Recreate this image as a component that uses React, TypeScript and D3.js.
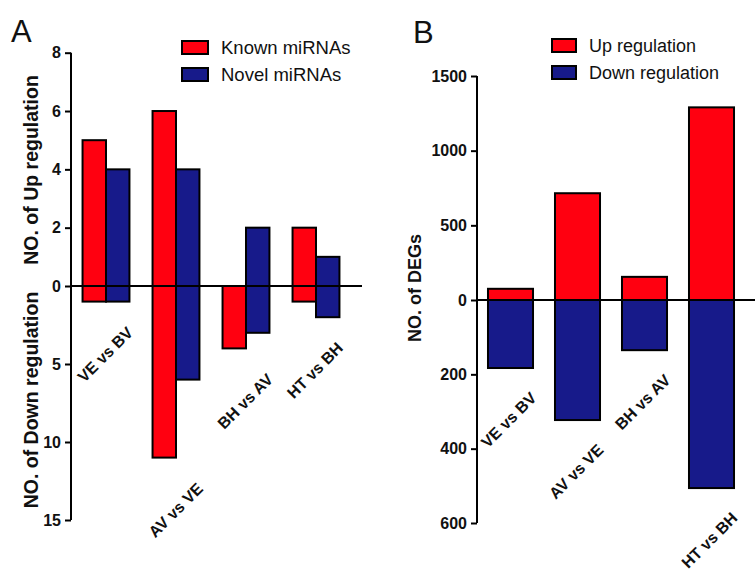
import React, { useEffect, useRef } from "react";
import * as d3 from "d3";

// Panel A: miRNA counts
const mirCategories = ["VE vs BV", "AV vs VE", "BH vs AV", "HT vs BH"];
const mirSeries = ["Known miRNAs", "Novel miRNAs"];
const knownUp = [5, 6, 0, 2];
const novelUp = [4, 4, 2, 1];
const knownDown = [1, 11, 4, 1];
const novelDown = [1, 6, 3, 2];
const mirUpTicks = [0, 2, 4, 6, 8];
const mirDownTicks = [5, 10, 15];

// Panel B: DEG counts
const degCategories = ["VE vs BV", "AV vs VE", "BH vs AV", "HT vs BH"];
const degSeries = ["Up regulation", "Down regulation"];
const degUp = [75, 715, 155, 1290];
const degDown = [183, 323, 135, 506];
const degUpTicks = [0, 500, 1000, 1500];
const degDownTicks = [200, 400, 600];

const RED = "#ff0010";
const BLUE = "#171a8a";
const FONT = "Liberation Sans, Arial, sans-serif";

export default function App() {
  const svgRef = useRef<SVGSVGElement>(null);

  useEffect(() => {
    const svg = d3.select(svgRef.current);
    svg.selectAll("*").remove();

    const styleAxis = (g: any) => {
      g.select(".domain").remove();
      g.selectAll("line").attr("stroke", "#000").attr("stroke-width", 2);
      g.selectAll("text")
        .attr("font-family", FONT)
        .attr("font-weight", "bold")
        .attr("font-size", 16)
        .attr("fill", "#111");
    };

    const drawLegend = (x: number, y: number, names: string[], w: number, fs: number) => {
      const leg = svg.append("g");
      names.forEach((n, i) => {
        leg
          .append("rect")
          .attr("x", x)
          .attr("y", y + i * 27)
          .attr("width", w)
          .attr("height", 13)
          .attr("fill", i === 0 ? RED : BLUE)
          .attr("stroke", "#000")
          .attr("stroke-width", 2);
        leg
          .append("text")
          .attr("x", x + w + 13)
          .attr("y", y + i * 27 + 13)
          .attr("font-family", FONT)
          .attr("font-size", fs)
          .attr("fill", "#111")
          .text(n);
      });
    };

    const drawLabel = (x: number, y: number, text: string, size: number) =>
      svg
        .append("text")
        .attr("x", x)
        .attr("y", y)
        .attr("font-family", FONT)
        .attr("font-size", size)
        .attr("fill", "#111")
        .text(text);

    const yTitle = (x: number, y: number, text: string, fs: number) =>
      svg
        .append("text")
        .attr("transform", `translate(${x},${y}) rotate(-90)`)
        .attr("text-anchor", "middle")
        .attr("font-family", FONT)
        .attr("font-weight", "bold")
        .attr("font-size", fs)
        .attr("fill", "#111")
        .text(text);

    const catLabels = (
      cats: string[],
      xs: (c: string) => number,
      bottoms: number[],
      dx: number,
      dy: number
    ) => {
      cats.forEach((c, i) => {
        svg
          .append("text")
          .attr("transform", `translate(${xs(c) + dx},${bottoms[i] + dy}) rotate(-45)`)
          .attr("text-anchor", "end")
          .attr("font-family", FONT)
          .attr("font-weight", "bold")
          .attr("font-size", 16)
          .attr("fill", "#111")
          .text(c);
      });
    };

    // ---------- Panel A ----------
    const axA = 71;
    const zeroA = 286;
    const xA = d3
      .scaleBand()
      .domain(mirCategories)
      .range([axA, axA + 280])
      .paddingInner(0.33)
      .paddingOuter(0.165);
    const xAin = d3.scaleBand().domain(mirSeries).range([0, xA.bandwidth()]);
    const yAUp = d3.scaleLinear().domain([0, 8]).range([zeroA, 52.7]);
    const yADown = d3.scaleLinear().domain([0, 15]).range([zeroA, 520]);

    const barsA = svg.append("g");
    const upA = [knownUp, novelUp];
    const downA = [knownDown, novelDown];
    mirCategories.forEach((c, i) => {
      mirSeries.forEach((s, j) => {
        const x = xA(c)! + xAin(s)!;
        const col = j === 0 ? RED : BLUE;
        if (upA[j][i] > 0)
          barsA
            .append("rect")
            .attr("x", x)
            .attr("y", yAUp(upA[j][i]))
            .attr("width", xAin.bandwidth())
            .attr("height", zeroA - yAUp(upA[j][i]))
            .attr("fill", col)
            .attr("stroke", "#000")
            .attr("stroke-width", 2);
        if (downA[j][i] > 0)
          barsA
            .append("rect")
            .attr("x", x)
            .attr("y", zeroA)
            .attr("width", xAin.bandwidth())
            .attr("height", yADown(downA[j][i]) - zeroA)
            .attr("fill", col)
            .attr("stroke", "#000")
            .attr("stroke-width", 2);
      });
    });

    svg
      .append("g")
      .attr("transform", `translate(${axA},0)`)
      .call(d3.axisLeft(yAUp).tickValues(mirUpTicks).tickFormat(d3.format("d")).tickSize(6).tickPadding(4))
      .call(styleAxis);
    svg
      .append("g")
      .attr("transform", `translate(${axA},0)`)
      .call(d3.axisLeft(yADown).tickValues(mirDownTicks).tickFormat(d3.format("d")).tickSize(6).tickPadding(4))
      .call(styleAxis);
    svg
      .append("line")
      .attr("x1", axA)
      .attr("x2", axA)
      .attr("y1", yAUp(8))
      .attr("y2", yADown(15))
      .attr("stroke", "#000")
      .attr("stroke-width", 2);
    svg
      .append("line")
      .attr("x1", axA)
      .attr("x2", 362)
      .attr("y1", zeroA)
      .attr("y2", zeroA)
      .attr("stroke", "#000")
      .attr("stroke-width", 2);

    const bottomsA = mirCategories.map((_, i) =>
      yADown(Math.max(knownDown[i], novelDown[i]))
    );
    catLabels(mirCategories, (c) => xA(c)! + xA.bandwidth() / 2, bottomsA, 28, 32);

    yTitle(38, 170, "NO. of Up regulation", 19.5);
    yTitle(38, 400, "NO. of Down regulation", 19.5);
    drawLegend(182, 41, mirSeries, 26, 18.5);
    drawLabel(11, 42, "A", 31);

    // ---------- Panel B ----------
    const axB = 477;
    const zeroB = 300;
    const xB = d3
      .scaleBand()
      .domain(degCategories)
      .range([axB, axB + 268])
      .paddingInner(0.328)
      .paddingOuter(0.164);
    const yBUp = d3.scaleLinear().domain([0, 1500]).range([zeroB, 76]);
    const yBDown = d3.scaleLinear().domain([0, 600]).range([zeroB, 523]);

    const barsB = svg.append("g");
    degCategories.forEach((c, i) => {
      barsB
        .append("rect")
        .attr("x", xB(c)!)
        .attr("y", yBUp(degUp[i]))
        .attr("width", xB.bandwidth())
        .attr("height", zeroB - yBUp(degUp[i]))
        .attr("fill", RED)
        .attr("stroke", "#000")
        .attr("stroke-width", 2);
      barsB
        .append("rect")
        .attr("x", xB(c)!)
        .attr("y", zeroB)
        .attr("width", xB.bandwidth())
        .attr("height", yBDown(degDown[i]) - zeroB)
        .attr("fill", BLUE)
        .attr("stroke", "#000")
        .attr("stroke-width", 2);
    });

    svg
      .append("g")
      .attr("transform", `translate(${axB},0)`)
      .call(d3.axisLeft(yBUp).tickValues(degUpTicks).tickFormat(d3.format("d")).tickSize(6).tickPadding(4))
      .call(styleAxis);
    svg
      .append("g")
      .attr("transform", `translate(${axB},0)`)
      .call(d3.axisLeft(yBDown).tickValues(degDownTicks).tickFormat(d3.format("d")).tickSize(6).tickPadding(4))
      .call(styleAxis);
    svg
      .append("line")
      .attr("x1", axB)
      .attr("x2", axB)
      .attr("y1", yBUp(1500))
      .attr("y2", yBDown(600))
      .attr("stroke", "#000")
      .attr("stroke-width", 2);
    svg
      .append("line")
      .attr("x1", axB)
      .attr("x2", 755)
      .attr("y1", zeroB)
      .attr("y2", zeroB)
      .attr("stroke", "#000")
      .attr("stroke-width", 2);

    const bottomsB = degDown.map((v) => yBDown(v));
    catLabels(degCategories, (c) => xB(c)! + xB.bandwidth() / 2, bottomsB, 27, 31);

    yTitle(421, 288, "NO. of DEGs", 18);
    drawLegend(552, 39, degSeries, 24, 18);
    drawLabel(413, 43, "B", 31);
  }, []);

  return (
    <svg
      ref={svgRef}
      width={755}
      height={572}
      style={{ position: "absolute", left: 0, top: 0, background: "#fff" }}
    />
  );
}
